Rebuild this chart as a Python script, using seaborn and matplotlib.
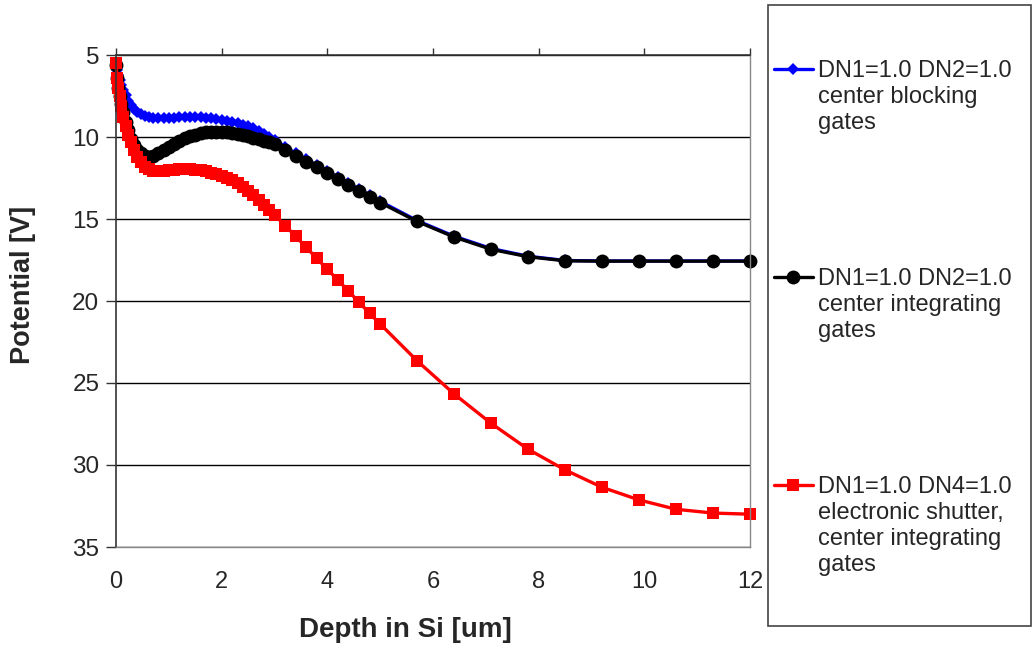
import matplotlib
matplotlib.use("Agg")
import matplotlib.pyplot as plt
from matplotlib.lines import Line2D
from matplotlib.patches import Rectangle
import seaborn as sns

# depth grid [um] (fine near the surface, coarse in the bulk)
DEPTH = [0.0, 0.02, 0.04, 0.07, 0.1, 0.14, 0.18, 0.23, 0.28, 0.34, 0.4, 0.47, 0.54, 0.62, 0.7,
         0.8, 0.9, 1.0, 1.1, 1.2, 1.3, 1.4, 1.5, 1.6, 1.7, 1.8, 1.9, 2.0, 2.1, 2.2, 2.3, 2.4,
         2.5, 2.6, 2.7, 2.8, 2.9, 3.0,
         3.2, 3.4, 3.6, 3.8, 4.0, 4.2, 4.4, 4.6, 4.8, 5.0,
         5.7, 6.4, 7.1, 7.8, 8.5, 9.2, 9.9, 10.6, 11.3, 12.0]

# potential [V]
BLOCKING = [5.5, 5.9, 6.2, 6.5, 6.8, 7.15, 7.45, 7.8, 8.05, 8.3, 8.5, 8.62, 8.72, 8.8, 8.85,
            8.87, 8.87, 8.85, 8.83, 8.81, 8.8, 8.79, 8.79, 8.8, 8.82, 8.85, 8.89, 8.94, 9.0, 9.07,
            9.15, 9.24, 9.33, 9.46, 9.62, 9.8, 9.98, 10.17,
            10.6, 11.0, 11.37, 11.72, 12.08, 12.45, 12.82, 13.18, 13.55, 13.92,
            15.1, 16.05, 16.8, 17.27, 17.53, 17.56, 17.56, 17.56, 17.56, 17.56]

INTEGRATING = [5.6, 6.4, 7.0, 7.5, 8.0, 8.5, 9.1, 9.6, 10.1, 10.5, 10.8, 11.0, 11.15, 11.2, 11.15,
               11.0, 10.8, 10.6, 10.4, 10.22, 10.07, 9.95, 9.85, 9.77, 9.72, 9.69, 9.68, 9.68, 9.7,
               9.74, 9.8, 9.87, 9.95, 10.04, 10.13, 10.23, 10.33, 10.43,
               10.8, 11.15, 11.5, 11.85, 12.2, 12.57, 12.93, 13.28, 13.64, 14.0,
               15.15, 16.1, 16.85, 17.3, 17.55, 17.57, 17.57, 17.57, 17.57, 17.57]

SHUTTER = [5.5, 6.4, 7.0, 7.5, 8.1, 8.8, 9.35, 9.85, 10.3, 10.8, 11.2, 11.55, 11.8, 11.98, 12.07,
           12.07, 12.05, 12.02, 11.99, 11.97, 11.96, 11.97, 12.0, 12.04, 12.1, 12.17, 12.26, 12.37,
           12.5, 12.65, 12.83, 13.04, 13.28, 13.54, 13.82, 14.12, 14.43, 14.75,
           15.4, 16.05, 16.73, 17.4, 18.07, 18.72, 19.39, 20.08, 20.75, 21.4,
           23.65, 25.67, 27.46, 29.04, 30.3, 31.36, 32.13, 32.7, 32.93, 33.0]

SERIES_LABELS = [
    "DN1=1.0 DN2=1.0\ncenter blocking\ngates",
    "DN1=1.0 DN2=1.0\ncenter integrating\ngates",
    "DN1=1.0 DN4=1.0\nelectronic shutter,\ncenter integrating\ngates",
]
X_TICKS = [0, 2, 4, 6, 8, 10, 12]
Y_TICKS = [5, 10, 15, 20, 25, 30, 35]

W, H = 1032, 648


def plot_potential():
    sns.set_style("white")
    plt.rcParams["font.family"] = ["Liberation Sans", "DejaVu Sans"]

    fig = plt.figure(figsize=(W / 100, H / 100), dpi=100)
    ax = fig.add_axes([116 / W, 1 - 547 / H, (750 - 116) / W, (547 - 55) / H])

    styles = [
        (BLOCKING, "#0000FF", "D", 6.5),
        (INTEGRATING, "#000000", "o", 10),
        (SHUTTER, "#FF0000", "s", 8),
    ]
    for values, color, marker, size in styles:
        sns.lineplot(x=DEPTH, y=values, color=color, marker=marker, markersize=size,
                     markeredgewidth=0, linewidth=2.4, sort=False, errorbar=None,
                     clip_on=False, ax=ax)

    ax.set_xlim(0, 12)
    ax.set_ylim(35, 5)
    ax.set_xticks(X_TICKS)
    ax.set_yticks(Y_TICKS)
    ax.yaxis.grid(True, color="black", linewidth=1)
    ax.xaxis.grid(False)

    for side in ["left", "top"]:
        ax.spines[side].set_color("#333333")
        ax.spines[side].set_linewidth(1.2)
    for side in ["right", "bottom"]:
        ax.spines[side].set_color("#888888")
        ax.spines[side].set_linewidth(1.0)

    ax.tick_params(axis="y", left=True, direction="out", length=7, width=1,
                   color="#333333", pad=5, labelsize=17.5)
    ax.tick_params(axis="x", top=True, bottom=False, labeltop=False, labelbottom=True,
                   direction="out", length=5, width=1, color="#333333", pad=12,
                   labelsize=17)

    ax.set_xlabel("Depth in Si [um]", fontsize=20, fontweight="bold")
    ax.set_ylabel("Potential [V]", fontsize=19.5, fontweight="bold")
    ax.xaxis.set_label_coords(0.456, -0.142)
    ax.yaxis.set_label_coords(-0.147, 0.533)
    ax.yaxis.label.set_verticalalignment("center")

    # legend: one row per text line, first line carries the marker
    blank = Line2D([], [], color="none")
    handles, labels = [], []
    for i, (line, text) in enumerate(zip(ax.lines[:3], SERIES_LABELS)):
        rows = text.split("\n")
        handles += [line] + [blank] * (len(rows) - 1)
        labels += rows
        if i < 2:
            handles += [blank] * (8 - len(rows))
            labels += [""] * (8 - len(rows))

    fig.legend(handles, labels, loc="upper left", bbox_to_anchor=(774 / W, 1 - 60 / H),
               frameon=False, fontsize=17, handlelength=1.65, handletextpad=0.2,
               labelspacing=0.17, borderpad=0, borderaxespad=0)
    fig.patches.append(Rectangle((768 / W, 1 - 626 / H), (1031 - 768) / W, (626 - 5) / H,
                                 transform=fig.transFigure, fill=False,
                                 edgecolor="#444444", linewidth=1.2))

    fig.savefig("out.png", dpi=100)
    plt.close(fig)


if __name__ == "__main__":
    plot_potential()
